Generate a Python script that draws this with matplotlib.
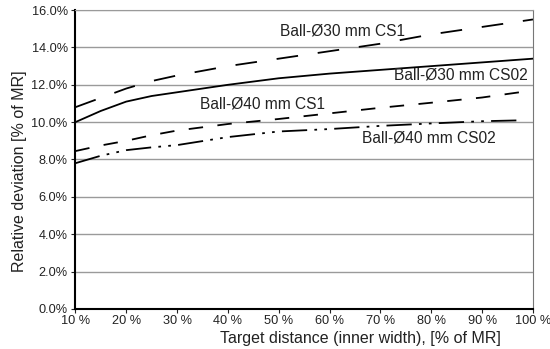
import matplotlib
matplotlib.use('Agg')
import matplotlib.pyplot as plt
from matplotlib.ticker import FuncFormatter

plt.rcParams['font.family'] = ['Liberation Sans', 'DejaVu Sans']

# target distance [% of MR]
dist = [10, 15, 20, 25, 30, 40, 50, 60, 70, 80, 90, 100]

# relative deviation [% of MR]
ball30_cs1 = [10.8, 11.3, 11.8, 12.2, 12.5, 13.0, 13.4, 13.8, 14.2, 14.7, 15.1, 15.5]
ball30_cs02 = [10.0, 10.6, 11.1, 11.4, 11.6, 12.0, 12.35, 12.6, 12.8, 13.0, 13.2, 13.4]
ball40_cs1 = [8.45, 8.75, 9.0, 9.3, 9.55, 9.9, 10.17, 10.47, 10.77, 11.04, 11.32, 11.7]

dist_cs02 = [10, 15, 20, 25, 30, 40, 50, 60, 70, 80, 90, 98]
ball40_cs02 = [7.8, 8.2, 8.5, 8.65, 8.77, 9.2, 9.5, 9.63, 9.8, 9.93, 10.05, 10.1]

x_ticks = [10, 20, 30, 40, 50, 60, 70, 80, 90, 100]
y_ticks = [0, 2, 4, 6, 8, 10, 12, 14, 16]

fig = plt.figure(figsize=(5.5, 3.49), dpi=100)
ax = fig.add_axes([0.137, 0.115, 0.832, 0.856])

for y in y_ticks[1:]:
    ax.axhline(y, color='#9a9a9a', lw=1.0, zorder=1)

ax.plot(dist, ball30_cs1, color='black', lw=1.3, dashes=(12, 11), zorder=3)
ax.plot(dist, ball30_cs02, color='black', lw=1.3, zorder=3)
ax.plot(dist, ball40_cs1, color='black', lw=1.3, dashes=(8, 8), zorder=3)
ax.plot(dist_cs02, ball40_cs02, color='black', lw=1.3,
        dashes=(14, 4, 1.5, 4, 1.5, 4), zorder=3)

lbl = dict(fontsize=11.2, color='#222222', va='center', ha='left', zorder=4)
ax.text(50.3, 14.9, 'Ball-Ø30 mm CS1', **lbl)
ax.text(72.6, 12.5, 'Ball-Ø30 mm CS02', **lbl)
ax.text(34.5, 10.95, 'Ball-Ø40 mm CS1', **lbl)
ax.text(66.3, 9.15, 'Ball-Ø40 mm CS02', **lbl)

ax.set_xlim(10, 100)
ax.set_ylim(0, 16)
ax.set_xticks(x_ticks)
ax.set_yticks(y_ticks)
ax.xaxis.set_major_formatter(FuncFormatter(lambda v, p: f'{v:.0f} %'))
ax.yaxis.set_major_formatter(FuncFormatter(lambda v, p: f'{v:.1f}%'))
ax.tick_params(axis='both', labelsize=9.2, colors='#222222', length=3, width=0.8)
ax.tick_params(axis='x', pad=1.5)
ax.tick_params(axis='y', pad=2.5)

ax.spines['left'].set_linewidth(1.5)
ax.spines['bottom'].set_linewidth(1.5)
ax.spines['right'].set_color('#777777')
ax.spines['top'].set_color('#9a9a9a')

ax.set_xlabel('Target distance (inner width), [% of MR]', fontsize=11.5, color='#222222', labelpad=0)
ax.xaxis.set_label_coords(0.624, -0.073)
ax.set_ylabel('Relative deviation [% of MR]', fontsize=11.5, color='#222222')
ax.yaxis.set_label_coords(-0.105, 0.46)

fig.savefig('out.png', dpi=100)
